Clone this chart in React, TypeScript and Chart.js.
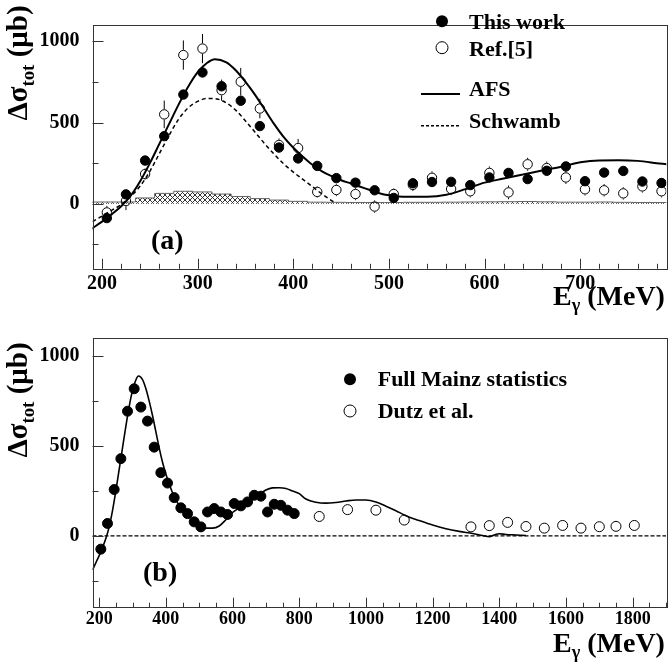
import React, { useEffect, useRef } from 'react';
import { Chart, registerables } from 'chart.js';
Chart.register(...registerables);

const FONT = '"Liberation Serif", "Times New Roman", serif';

// ---- data ----
const mainzE = [205, 225, 245, 265, 285, 305, 325, 345, 365, 385, 405, 425, 445, 465, 485, 505, 525, 545, 565, 585, 605, 625, 645, 665, 685, 705, 725, 745, 765, 785];
const mainzA = [-88, 58, 266, 416, 672, 808, 723, 634, 478, 346, 279, 233, 158, 130, 83, 36, 126, 134, 135, 115, 162, 190, 152, 203, 230, 139, 192, 202, 137, 128];
const mainzAErr = [25, 20, 20, 25, 30, 30, 30, 30, 25, 25, 20, 20, 20, 20, 20, 20, 20, 20, 20, 20, 20, 20, 20, 20, 20, 20, 20, 20, 20, 20];
const ref5 = [-53, 17, 183, 550, 915, 955, 699, 751, 586, 362, 343, 73, 85, 60, -17, 60, 116, 160, 91, 77, 190, 70, 243, 220, 162, 89, 83, 64, 107, 77];
const ref5Err = [40, 56, 35, 85, 90, 90, 65, 85, 60, 40, 56, 35, 38, 38, 38, 35, 38, 40, 38, 38, 40, 42, 40, 40, 40, 38, 38, 38, 38, 38];
const mainzB = [-74, 69, 258, 430, 694, 819, 717, 639, 494, 352, 294, 213, 156, 124, 78, 50, 133, 152, 133, 119, 180, 167, 189, 226, 221, 133, 176, 170, 143, 124];

const afsE = [180, 190, 200, 210, 220, 230, 240, 250, 260, 270, 280, 290, 300, 310, 318, 330, 340, 350, 360, 370, 380, 390, 400, 410, 420, 430, 440, 450, 460, 470, 480, 490, 500, 510, 520, 540, 560, 580, 600, 620, 640, 660, 680, 700, 720, 740, 760, 780, 800, 820, 850, 880, 910, 940, 970, 1000, 1030, 1060, 1090, 1120, 1160, 1200, 1240, 1280, 1320, 1350, 1370, 1385, 1400, 1420, 1450, 1480];
const afsV = [-190, -150, -110, -65, -15, 50, 140, 250, 370, 490, 610, 720, 810, 868, 890, 870, 820, 750, 670, 580, 490, 410, 345, 290, 240, 200, 170, 145, 125, 105, 85, 65, 52, 45, 43, 43, 55, 90, 130, 155, 180, 205, 228, 255, 267, 268, 264, 250, 235, 205, 187, 182, 186, 194, 200, 200, 189, 165, 140, 112, 85, 60, 40, 25, 13, 2, -5, 5, 12, 8, 5, 2];

const schE = [190, 200, 210, 220, 230, 240, 250, 260, 270, 280, 290, 300, 310, 320, 330, 340, 350, 360, 370, 380, 390, 400, 410, 420, 430, 440, 445];
const schV = [-110, -75, -40, -5, 45, 110, 200, 310, 420, 520, 590, 630, 648, 645, 620, 575, 510, 440, 370, 305, 245, 195, 150, 105, 60, 20, 5];

const sysCenters = [185, 205, 225, 245, 265, 285, 305, 325, 345, 365, 385, 405, 425, 445, 465, 485, 505, 525, 545, 565, 585, 605, 625, 645, 665, 685, 705, 725, 745, 765, 785];
const sysVals = [11, 11, 11, 11, 36, 64, 77, 73, 60, 45, 32, 23, 15, 10, 9, 8, 8, 8, 9, 9, 10, 11, 12, 13, 14, 12, 10, 10, 11, 9, 8];
const sysHalfWidth = 10;

const dutzE = [860, 945, 1030, 1115, 1315, 1370, 1425, 1480, 1535, 1590, 1645, 1700, 1750, 1805];
const dutzV = [108, 146, 143, 88, 50, 57, 75, 52, 43, 58, 43, 51, 53, 58];

const zeroE = [180, 1900];
const zeroV = [0, 0];

const yTickVals = [0, 500, 1000];
const xTicksA = [200, 300, 400, 500, 600, 700];
const xTicksB = [200, 400, 600, 800, 1000, 1200, 1400, 1600, 1800];

const pts = (xs: number[], ys: number[]) => xs.map((x, i) => ({ x, y: ys[i] }));

function hatchPattern(ctx: CanvasRenderingContext2D) {
  const s = 5;
  const c = document.createElement('canvas');
  c.width = s; c.height = s;
  const g = c.getContext('2d')!;
  g.strokeStyle = '#333';
  g.lineWidth = 1;
  g.beginPath();
  g.moveTo(0, 0); g.lineTo(s, s);
  g.moveTo(0, s); g.lineTo(s, 0);
  g.stroke();
  return ctx.createPattern(c, 'repeat')!;
}

type LegendItem = { kind: 'filled' | 'open' | 'line' | 'dash'; x: number; y: number; x2?: number };

function rootPlugin(id: string, xStep: number, xMajor: number, legend: LegendItem[]) {
  return {
    id,
    beforeDatasetsDraw(chart: any) {
      const ctx = chart.ctx; const a = chart.chartArea;
      ctx.save();
      ctx.beginPath(); ctx.rect(a.left, a.top, a.right - a.left, a.bottom - a.top); ctx.clip();
      ctx.strokeStyle = '#000'; ctx.lineWidth = 1;
      chart.data.datasets.forEach((ds: any, i: number) => {
        if (!ds.yErr) return;
        const meta = chart.getDatasetMeta(i);
        const ys = chart.scales.y;
        const r = (ds.pointRadius || 4) + 0.5;
        meta.data.forEach((el: any, j: number) => {
          const v = ds.data[j].y; const e = ds.yErr[j];
          const yt = ys.getPixelForValue(v + e), yb = ys.getPixelForValue(v - e);
          ctx.beginPath();
          if (yt < el.y - r) { ctx.moveTo(el.x, yt); ctx.lineTo(el.x, el.y - r); }
          if (yb > el.y + r) { ctx.moveTo(el.x, el.y + r); ctx.lineTo(el.x, yb); }
          ctx.stroke();
        });
      });
      ctx.restore();
    },
    afterDraw(chart: any) {
      const ctx = chart.ctx; const a = chart.chartArea;
      const xs = chart.scales.x, ys = chart.scales.y;
      ctx.save();
      ctx.strokeStyle = '#333'; ctx.lineWidth = 1;
      ctx.strokeRect(Math.round(a.left) + 0.5, Math.round(a.top) + 0.5, Math.round(a.right - a.left), Math.round(a.bottom - a.top));
      ctx.beginPath();
      for (let v = Math.ceil(xs.min / xStep) * xStep; v <= xs.max; v += xStep) {
        const px = Math.round(xs.getPixelForValue(v)) + 0.5;
        const len = v % xMajor === 0 ? 10 : 5;
        ctx.moveTo(px, a.bottom); ctx.lineTo(px, a.bottom - len);
      }
      for (let v = Math.ceil(ys.min / 250) * 250; v <= ys.max; v += 250) {
        const py = Math.round(ys.getPixelForValue(v)) + 0.5;
        const len = v % 500 === 0 ? 11 : 6;
        ctx.moveTo(a.left, py); ctx.lineTo(a.left + len, py);
      }
      ctx.stroke();
      // legend symbols
      ctx.strokeStyle = '#000'; ctx.fillStyle = '#000';
      legend.forEach((it) => {
        if (it.kind === 'filled' || it.kind === 'open') {
          ctx.beginPath(); ctx.arc(it.x, it.y, 6, 0, Math.PI * 2);
          ctx.lineWidth = 1;
          if (it.kind === 'filled') ctx.fill(); else ctx.stroke();
        } else {
          ctx.beginPath();
          ctx.lineWidth = it.kind === 'line' ? 2 : 1.5;
          ctx.setLineDash(it.kind === 'dash' ? [3, 2] : []);
          ctx.moveTo(it.x, it.y); ctx.lineTo(it.x2!, it.y);
          ctx.stroke();
          ctx.setLineDash([]);
        }
      });
      ctx.restore();
    },
  };
}

const tickFont = { family: FONT, weight: 'bold' as const, size: 20 };

function makeScales(xmin: number, xmax: number, xTicks: number[], xH: number, xPad: number, xFontSize: number) {
  return {
    x: {
      type: 'linear', min: xmin, max: xmax,
      grid: { display: false, drawTicks: false }, border: { display: false },
      ticks: { font: { ...tickFont, size: xFontSize }, color: '#000', padding: xPad, maxRotation: 0, autoSkip: false, callback: (v: any) => String(v) },
      afterBuildTicks: (s: any) => { s.ticks = xTicks.map((v) => ({ value: v })); },
      afterFit: (s: any) => { s.height = xH; },
    },
    y: {
      type: 'linear', min: -400, max: 1100,
      grid: { display: false, drawTicks: false }, border: { display: false },
      ticks: { font: tickFont, color: '#000', padding: 13, callback: (v: any) => String(v) },
      afterBuildTicks: (s: any) => { s.ticks = yTickVals.map((v) => ({ value: v })); },
      afterFit: (s: any) => { s.width = 92.5; },
    },
  };
}

const scatterDs = (label: string, data: any[], filled: boolean, r: number, err?: number[]) => ({
  type: 'line', label, data, showLine: false, pointRadius: r, pointHoverRadius: r,
  pointBackgroundColor: filled ? '#000' : 'rgba(255,255,255,0)', pointBorderColor: '#000', pointBorderWidth: 1,
  borderColor: '#000', yErr: err,
});

export default function App() {
  const refA = useRef<HTMLCanvasElement>(null);
  const refB = useRef<HTMLCanvasElement>(null);

  useEffect(() => {
    const ctxA = refA.current!.getContext('2d')!;
    const sysData = sysCenters.map((c, i) => ({ x: c - sysHalfWidth, y: sysVals[i] }));
    sysData.push({ x: sysCenters[sysCenters.length - 1] + sysHalfWidth, y: sysVals[sysVals.length - 1] });

    const chartA = new Chart(refA.current!, {
      type: 'line',
      data: {
        datasets: [
          scatterDs('This work', pts(mainzE, mainzA), true, 4.7, mainzAErr),
          scatterDs('Ref.[5]', pts(mainzE, ref5), false, 4.7, ref5Err),
          { type: 'line', label: 'AFS', data: pts(afsE, afsV), borderColor: '#000', borderWidth: 2, pointRadius: 0, cubicInterpolationMode: 'monotone', fill: false },
          { type: 'line', label: 'Schwamb', data: pts(schE, schV), borderColor: '#000', borderWidth: 1.5, borderDash: [4, 3], pointRadius: 0, cubicInterpolationMode: 'monotone', fill: false },
          { type: 'line', label: 'sys', data: sysData, stepped: 'after', borderColor: '#666', borderWidth: 1, pointRadius: 0, fill: 'origin', backgroundColor: hatchPattern(ctxA) },
        ] as any,
      },
      options: {
        responsive: false, animation: false, events: [],
        layout: { padding: { left: 0, top: 3.3, right: 4, bottom: 0 } },
        plugins: { legend: { display: false }, tooltip: { enabled: false } },
        scales: makeScales(190, 790, xTicksA, 41.2, 3, 20) as any,
      },
      plugins: [rootPlugin('rootA', 20, 100, [
        { kind: 'filled', x: 442, y: 21.3 },
        { kind: 'open', x: 442, y: 47.7 },
        { kind: 'line', x: 421, x2: 460, y: 94 },
        { kind: 'dash', x: 421, x2: 460, y: 125.7 },
      ])],
    });

    const chartB = new Chart(refB.current!, {
      type: 'line',
      data: {
        datasets: [
          scatterDs('Full Mainz statistics', pts(mainzE, mainzB), true, 5),
          scatterDs('Dutz et al.', pts(dutzE, dutzV), false, 5),
          { type: 'line', label: 'AFS', data: pts(afsE, afsV), borderColor: '#000', borderWidth: 1.6, pointRadius: 0, cubicInterpolationMode: 'monotone', fill: false },
          { type: 'line', label: 'zero', data: pts(zeroE, zeroV), borderColor: '#000', borderWidth: 1.3, borderDash: [4, 2], pointRadius: 0, fill: false },
        ] as any,
      },
      options: {
        responsive: false, animation: false, events: [],
        layout: { padding: { left: 0, top: 28.3, right: 3.5, bottom: 30.3 } },
        plugins: { legend: { display: false }, tooltip: { enabled: false } },
        scales: makeScales(180, 1900, xTicksB, 30, 1, 18) as any,
      },
      plugins: [rootPlugin('rootB', 50, 200, [
        { kind: 'filled', x: 350, y: 69.3 },
        { kind: 'open', x: 350, y: 101 },
      ])],
    });

    return () => { chartA.destroy(); chartB.destroy(); };
  }, []);

  const txt = (x: number, baseline: number, size: number, content: React.ReactNode, key: string) => (
    <div key={key} style={{ position: 'absolute', left: x, top: baseline - 0.8375 * size, fontSize: size, lineHeight: `${size}px`, fontWeight: 'bold', whiteSpace: 'nowrap', color: '#000' }}>{content}</div>
  );
  const sub = (s: string) => <span style={{ fontSize: '0.65em', position: 'relative', top: '0.35em' }}>{s}</span>;
  const yTitle = (cx: number, cy: number, key: string) => (
    <div key={key} style={{ position: 'absolute', left: cx, top: cy, transform: 'translate(-50%,-50%) rotate(-90deg)', fontSize: 29, lineHeight: '29px', fontWeight: 'bold', whiteSpace: 'nowrap', color: '#000' }}>
      Δσ{sub('tot')} (μb)
    </div>
  );

  return (
    <div style={{ position: 'absolute', left: 0, top: 0, width: 672, height: 668, background: '#fff', fontFamily: FONT, overflow: 'hidden' }}>
      <canvas ref={refA} width={672} height={310} style={{ position: 'absolute', left: 0, top: 0, width: 672, height: 310 }} />
      <canvas ref={refB} width={672} height={358} style={{ position: 'absolute', left: 0, top: 310, width: 672, height: 358 }} />
      {yTitle(18.5, 63, 'ya')}
      {yTitle(18.5, 400, 'yb')}
      {txt(553, 305, 28, <>E{sub('γ')} (MeV)</>, 'xa')}
      {txt(553, 652, 28, <>E{sub('γ')} (MeV)</>, 'xb')}
      {txt(151, 249, 28, '(a)', 'pa')}
      {txt(143, 581, 28, '(b)', 'pb')}
      {txt(469, 29.3, 22, 'This work', 'l1')}
      {txt(469, 56, 22, 'Ref.[5]', 'l2')}
      {txt(469, 96.7, 22, 'AFS', 'l3')}
      {txt(469, 128.3, 22, 'Schwamb', 'l4')}
      {txt(377.7, 386.7, 22, 'Full Mainz statistics', 'l5')}
      {txt(377.7, 418.3, 22, 'Dutz et al.', 'l6')}
    </div>
  );
}
